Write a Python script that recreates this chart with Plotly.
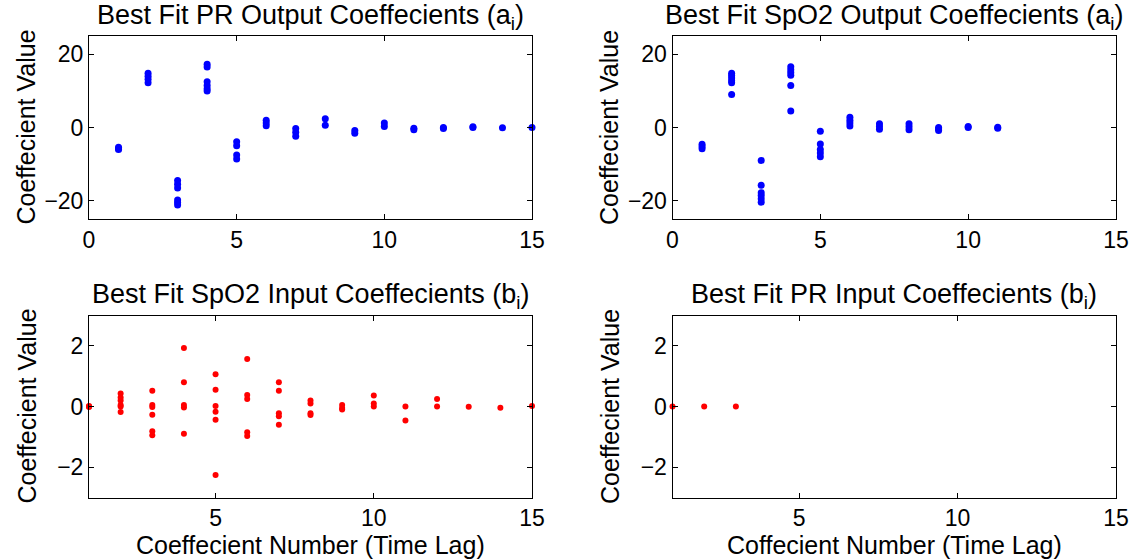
import plotly.graph_objects as go

# ---- data ----
pr_out_lag = [1,1,1, 2,2,2,2, 3,3,3,3,3,3, 4,4,4,4,4,4, 5,5,5,5, 6,6,6, 7,7,7, 8,8, 9,9, 10,10, 11,11, 12,12, 13,13, 14, 15]
pr_out_val = [-5.4,-5.8,-6.0, 14.8,14.0,13.2,12.2, -14.5,-15.5,-16.5,-19.8,-20.5,-21.2,
              17.3,16.5,12.5,11.5,10.6,10.0, -3.9,-5.0,-7.5,-8.6, 2.0,1.2,0.5, -0.3,-1.3,-2.4,
              2.4,0.6, -0.8,-1.6, 1.2,0.3, -0.2,-0.6, 0.0,-0.3, 0.2,0.0, -0.1, 0.0]

spo2_out_lag = [1,1,1, 2,2,2,2,2,2, 3,3,3,3,3,3, 4,4,4,4,4,4, 5,5,5,5,5, 6,6,6,6, 7,7,7, 8,8,8, 9,9,9, 10,10, 11,11]
spo2_out_val = [-4.6,-5.2,-5.8, 14.8,14.2,13.5,12.8,12.2,9.0, -9.0,-15.8,-17.8,-18.6,-19.5,-20.4,
                16.6,15.8,15.0,14.3,11.5,4.5, -1.0,-4.5,-6.0,-7.0,-8.0, 2.8,2.0,1.2,0.4,
                1.0,0.3,-0.5, 1.0,0.2,-0.6, 0.0,-0.4,-0.8, 0.3,0.0, 0.1,-0.2]

spo2_in_lag = [1,1,1, 2,2,2,2,2,2, 3,3,3,3,3,3, 4,4,4,4,4, 5,5,5,5,5,5, 6,6,6,6,6, 7,7,7,7,7, 8,8,8,8, 9,9,9, 10,10,10, 11,11, 12,12, 13, 14, 15]
spo2_in_val = [0.02,0.0,-0.02, 0.43,0.3,0.2,0.05,0.0,-0.18, 0.52,0.05,-0.02,-0.27,-0.82,-0.95,
               1.93,0.8,0.05,-0.03,-0.9, 1.06,0.55,0.02,-0.17,-0.44,-2.26, 1.57,0.38,0.25,-0.85,-0.97,
               0.8,0.52,-0.22,-0.32,-0.6, 0.2,0.1,-0.22,-0.28, 0.05,-0.05,-0.1, 0.36,0.1,0.0,
               0.0,-0.46, 0.25,0.0, -0.01, -0.04, 0.02]

pr_in_lag = [1, 2, 3]
pr_in_val = [0.0, 0.0, 0.0]

titles = ["Best Fit PR Output Coeffecients (a<sub>i</sub>)",
          "Best Fit SpO2 Output Coeffecients (a<sub>i</sub>)",
          "Best Fit SpO2 Input Coeffecients (b<sub>i</sub>)",
          "Best Fit PR Input Coeffecients (b<sub>i</sub>)"]
xlabels = ["Coeffecient Number (Time Lag)", "Coffecient Number (Time Lag)"]
ylabel = "Coeffecient Value"

W, H = 1136, 560
FONT = "Liberation Sans, Arial, Helvetica, sans-serif"
FS_TICK = 23
FS_TITLE = 27
FS_XLAB = 25
FS_YLAB = 25

fig = go.Figure()
blue = "rgb(0,0,255)"
red = "rgb(255,0,0)"
fig.add_trace(go.Scatter(x=pr_out_lag, y=pr_out_val, mode="markers", xaxis="x", yaxis="y",
                         marker=dict(color=blue, size=7), cliponaxis=False, showlegend=False))
fig.add_trace(go.Scatter(x=spo2_out_lag, y=spo2_out_val, mode="markers", xaxis="x2", yaxis="y2",
                         marker=dict(color=blue, size=7), cliponaxis=False, showlegend=False))
fig.add_trace(go.Scatter(x=spo2_in_lag, y=spo2_in_val, mode="markers", xaxis="x3", yaxis="y3",
                         marker=dict(color=red, size=6), cliponaxis=False, showlegend=False))
fig.add_trace(go.Scatter(x=pr_in_lag, y=pr_in_val, mode="markers", xaxis="x4", yaxis="y4",
                         marker=dict(color=red, size=6), cliponaxis=False, showlegend=False))

xdom = [[89/W, 532/W], [672.5/W, 1116/W], [89/W, 532/W], [672.5/W, 1116/W]]
ydom = [[(H-219)/H, (H-36)/H], [(H-219)/H, (H-36)/H], [(H-497.5)/H, (H-315.5)/H], [(H-497.5)/H, (H-315.5)/H]]
xr = [[0, 15], [0, 15], [1, 15], [1, 15]]
xt = [[0, 5, 10, 15], [0, 5, 10, 15], [5, 10, 15], [5, 10, 15]]
yr = [[-25, 25], [-25, 25], [-3, 3], [-3, 3]]
yt = [[-20, 0, 20], [-20, 0, 20], [-2, 0, 2], [-2, 0, 2]]

axcommon = dict(showgrid=False, zeroline=False, showline=True, linecolor="black", linewidth=1,
                mirror="allticks", ticks="inside", ticklen=5, tickcolor="black",
                tickfont=dict(family=FONT, size=FS_TICK, color="black"), automargin=False)
layout = {}
for i in range(4):
    s = "" if i == 0 else str(i + 1)
    layout["xaxis" + s] = dict(domain=xdom[i], range=xr[i], tickvals=xt[i], anchor="y" + s, **axcommon)
    layout["yaxis" + s] = dict(domain=ydom[i], range=yr[i], tickvals=yt[i], anchor="x" + s, **axcommon)

fig.update_layout(width=W, height=H, margin=dict(l=0, r=0, t=0, b=0),
                  paper_bgcolor="white", plot_bgcolor="white",
                  font=dict(family=FONT, size=FS_TICK, color="black"), **layout)

title_y = [17, 17, 296, 296]
ann = []
for i in range(4):
    cx = (xdom[i][0] + xdom[i][1]) / 2
    ann.append(dict(text=titles[i], x=cx, y=(H - title_y[i]) / H, xref="paper", yref="paper",
                    xanchor="center", yanchor="middle", showarrow=False,
                    font=dict(family=FONT, size=FS_TITLE, color="black")))
    ann.append(dict(text=ylabel, x=xdom[i][0] - 63/W, y=(ydom[i][0] + ydom[i][1]) / 2, xref="paper", yref="paper",
                    xanchor="center", yanchor="middle", textangle=-90, showarrow=False,
                    font=dict(family=FONT, size=FS_YLAB, color="black")))
for j, i in enumerate([2, 3]):
    cx = (xdom[i][0] + xdom[i][1]) / 2
    ann.append(dict(text=xlabels[j], x=cx, y=(H - 545) / H, xref="paper", yref="paper",
                    xanchor="center", yanchor="middle", showarrow=False,
                    font=dict(family=FONT, size=FS_XLAB, color="black")))
fig.update_layout(annotations=ann)

fig.write_html("out.html")
